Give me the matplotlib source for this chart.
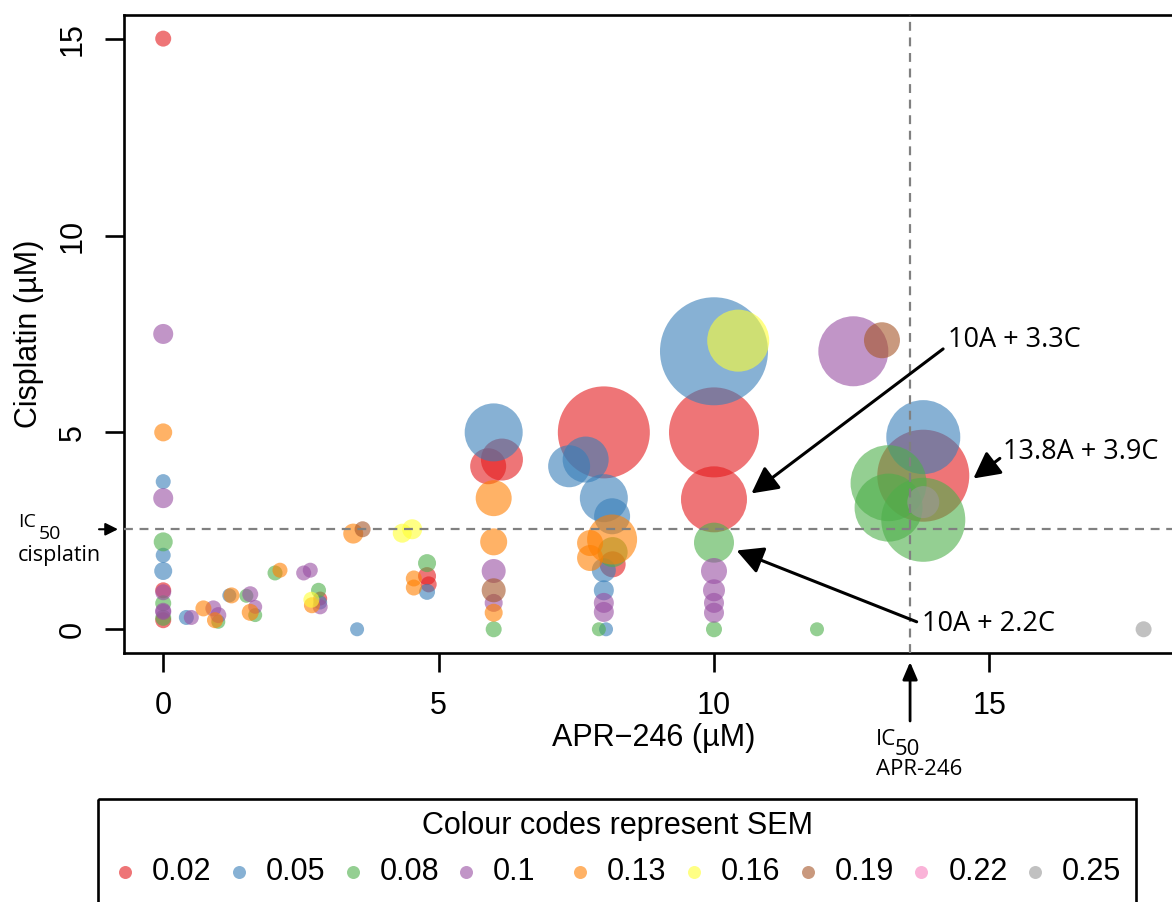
import numpy as np
import matplotlib
matplotlib.use("Agg")
import matplotlib.pyplot as plt
from matplotlib.patches import Rectangle

plt.rcParams['font.family'] = ['Liberation Sans', 'DejaVu Sans']

# SEM classes and their colours (Set1)
sem_levels = [0.02, 0.05, 0.08, 0.1, 0.13, 0.16, 0.19, 0.22, 0.25]
sem_colors = ['#E41A1C', '#377EB8', '#4DAF4A', '#984EA3', '#FF7F00',
              '#FFFF33', '#A65628', '#F781BF', '#999999']

# APR-246 dose (uM) of each combination
apr = [
    # APR-246 alone
    0, 0, 0, 0, 0, 0, 0, 0, 0, 0, 0, 0, 0, 0, 0,
    # low APR-246 doses
    0.42, 0.51, 0.73, 0.91, 1.00, 0.94, 1.00, 1.20, 1.24, 1.51, 1.58, 1.67,
    1.67, 1.58, 2.03, 2.12, 2.55, 2.67, 2.82, 2.85, 2.85, 2.85, 2.70, 2.69,
    3.45, 3.62, 3.52, 4.34, 4.52, 4.79, 4.55, 4.79, 4.82, 4.55, 4.79,
    # around 6 uM
    6.0, 5.9, 6.15, 6.0, 6.0, 6.0, 6.0, 6.0, 6.0, 6.0,
    # around 8 uM
    8.0, 7.37, 7.67, 8.0, 8.15, 8.15, 7.75, 7.75, 8.16, 8.16, 8.0, 8.0,
    8.0, 8.0, 7.91, 8.04,
    # around 10 uM
    10, 10.44, 10, 10, 10, 10, 10, 10, 10, 10, 11.87,
    # high doses
    12.53, 13.05, 13.8, 13.8, 13.17, 13.17, 13.8, 13.8, 17.8,
]

# cisplatin dose (uM) of each combination
cis = [
    15, 7.5, 5, 3.75, 3.33, 2.22, 1.88, 1.48, 0.99, 0.94, 0.66, 0.47, 0.44,
    0.29, 0.23,
    0.30, 0.30, 0.53, 0.53, 0.36, 0.23, 0.19, 0.86, 0.86, 0.85, 0.89, 0.57,
    0.36, 0.43, 1.43, 1.50, 1.43, 1.50, 0.99, 0.78, 0.68, 0.57, 0.61, 0.75,
    2.43, 2.54, 0, 2.44, 2.54, 1.68, 1.29, 1.35, 1.14, 1.06, 0.95,
    5.0, 4.14, 4.31, 3.33, 2.22, 1.48, 0.99, 0.67, 0.42, 0,
    5.0, 4.14, 4.31, 3.33, 2.87, 2.28, 2.19, 1.81, 1.96, 1.65, 1.5, 0.99,
    0.67, 0.44, 0, 0,
    7.06, 7.33, 5.0, 3.3, 2.2, 1.48, 0.99, 0.67, 0.42, 0, 0,
    7.06, 7.34, 4.88, 3.9, 3.71, 3.09, 2.78, 3.23, 0,
]

# standard error of the mean of each combination
sem = [
    0.02, 0.1, 0.13, 0.05, 0.1, 0.08, 0.05, 0.05, 0.02, 0.1, 0.08, 0.1, 0.1,
    0.08, 0.02,
    0.05, 0.1, 0.13, 0.1, 0.1, 0.13, 0.08, 0.05, 0.13, 0.08, 0.1, 0.1,
    0.08, 0.13, 0.08, 0.13, 0.1, 0.1, 0.08, 0.02, 0.05, 0.1, 0.13, 0.16,
    0.13, 0.19, 0.05, 0.16, 0.16, 0.08, 0.13, 0.02, 0.02, 0.13, 0.05,
    0.05, 0.02, 0.02, 0.13, 0.13, 0.1, 0.19, 0.1, 0.13, 0.08,
    0.02, 0.05, 0.05, 0.05, 0.05, 0.13, 0.13, 0.13, 0.08, 0.02, 0.05, 0.05,
    0.1, 0.1, 0.08, 0.05,
    0.05, 0.16, 0.02, 0.02, 0.08, 0.1, 0.1, 0.1, 0.1, 0.08, 0.08,
    0.1, 0.19, 0.05, 0.02, 0.08, 0.08, 0.08, 0.25, 0.25,
]

# synergy score of each combination (bubble size)
synergy = [
    0.8, 1.0, 0.9, 0.75, 1.0, 0.95, 0.75, 0.9, 0.8, 0.8, 0.8, 0.8, 0.8,
    0.8, 0.8,
    0.75, 0.75, 0.8, 0.8, 0.8, 0.8, 0.7, 0.7, 0.8, 0.7, 0.8, 0.7,
    0.7, 0.85, 0.75, 0.75, 0.75, 0.75, 0.75, 0.7, 0.7, 0.75, 0.8, 0.8,
    1.0, 0.8, 0.7, 0.95, 1.0, 0.9, 0.8, 0.9, 0.8, 0.8, 0.8,
    2.9, 1.8, 2.1, 1.8, 1.35, 1.2, 1.2, 0.9, 0.9, 0.8,
    4.6, 2.1, 2.3, 2.4, 1.8, 2.5, 1.3, 1.3, 1.5, 1.3, 1.2, 1.0,
    1.0, 1.0, 0.7, 0.7,
    5.4, 3.1, 4.5, 3.3, 2.0, 1.3, 1.1, 1.0, 1.0, 0.8, 0.7,
    3.5, 1.8, 3.7, 4.6, 3.8, 3.4, 4.2, 1.6, 0.8,
]

ic50_cisplatin = 2.54
ic50_apr = 13.56

DPI = 100
fig = plt.figure(figsize=(11.72, 9.02), dpi=DPI)
W, H = 1172, 902
ax = fig.add_axes([124 / W, 1 - 652.9 / H, 1058.7 / W, 637.9 / H])

apr_a = np.asarray(apr, float)
cis_a = np.asarray(cis, float)
sem_a = np.asarray(sem, float)
syn_a = np.asarray(synergy, float)

# bubbles drawn class by class, lowest SEM first
order = np.argsort(sem_a, kind='stable')
col_idx = [int(np.argmin(np.abs(np.array(sem_levels) - s))) for s in sem_a]
colors = [sem_colors[col_idx[i]] for i in order]
radius_px = 10.0 * syn_a[order]
sizes = (2 * radius_px * 72 / DPI) ** 2
ax.scatter(apr_a[order], cis_a[order], s=sizes, c=colors, alpha=0.6,
           linewidths=0, zorder=2)

# IC50 reference lines
ax.axhline(ic50_cisplatin, color='#808080', lw=1.6, dashes=(4, 3), zorder=3)
ax.axvline(ic50_apr, color='#808080', lw=1.6, dashes=(4, 3), zorder=3)

ax.set_xlim(-0.712, 18.51)
ax.set_ylim(-0.6, 15.6)
ax.set_xticks([0, 5, 10, 15])
ax.set_yticks([0, 5, 10, 15])
ax.set_xticklabels(['0', '5', '10', '15'])
ax.set_yticklabels(['0', '5', '10', '15'])
for sp in ax.spines.values():
    sp.set_linewidth(1.9)
ax.tick_params(axis='both', direction='out', length=13.7, width=1.9,
               labelsize=22, pad=13.5)
ax.tick_params(axis='y', labelrotation=90, pad=12.6)
for lab in ax.get_yticklabels():
    lab.set_va('center')

ax.set_xlabel('APR\u2212246 (\u00b5M)', fontsize=22)
ax.xaxis.set_label_coords(0.5, -(723 - 652.9) / 637.9)
ax.set_ylabel('Cisplatin (\u00b5M)', fontsize=22)
ax.yaxis.set_label_coords(-(124 - 44) / 1058.7, 0.5)

# annotations for selected combinations
ann_font = dict(family=['Open Sans', 'DejaVu Sans'], fontsize=19.5)
arrow_kw = dict(arrowstyle='-|>,head_length=0.8,head_width=0.42',
                color='black', lw=2.2, shrinkA=0, shrinkB=0,
                mutation_scale=20)
ax.annotate('', xy=(10.68, 3.45), xytext=(14.16, 7.12), arrowprops=arrow_kw)
ax.text(14.24, 7.35, '10A + 3.3C', ha='left', va='center', **ann_font)
ax.annotate('', xy=(10.41, 2.0), xytext=(13.68, 0.19), arrowprops=arrow_kw,
            annotation_clip=False)
ax.text(13.78, 0.14, '10A + 2.2C', ha='left', va='center', **ann_font)
ax.annotate('', xy=(14.71, 3.83), xytext=(15.19, 4.34), arrowprops=arrow_kw)
ax.text(15.24, 4.50, '13.8A + 3.9C', ha='left', va='center', **ann_font)

# IC50 markers outside the plot region
fam = ['Open Sans', 'DejaVu Sans']


def ic50_label(x_px, base_px, size, sub_x_px, sub_drop_px, name, name_base_px,
               name_size):
    fig.text(x_px / W, 1 - base_px / H, 'IC', ha='left', va='baseline',
             family=fam, fontsize=size)
    fig.text(sub_x_px / W, 1 - (base_px + sub_drop_px) / H, '50', ha='left',
             va='baseline', family=fam, fontsize=size)
    fig.text(x_px / W, 1 - name_base_px / H, name, ha='left', va='baseline',
             family=fam, fontsize=name_size)


ax.annotate('', xy=(118, ic50_cisplatin), xytext=(99, ic50_cisplatin),
            xycoords=('figure pixels', 'data'),
            textcoords=('figure pixels', 'data'),
            arrowprops=dict(arrowstyle='-|>,head_length=0.5,head_width=0.25',
                            color='black', lw=1.5, shrinkA=0, shrinkB=0,
                            mutation_scale=15),
            annotation_clip=False)
ic50_label(18, 527, 14, 38.5, 12, 'cisplatin', 561, 15.5)

ax.annotate('', xy=(ic50_apr, H - 662), xytext=(ic50_apr, H - 721),
            xycoords=('data', 'figure pixels'),
            textcoords=('data', 'figure pixels'),
            arrowprops=dict(arrowstyle='-|>,head_length=0.7,head_width=0.3',
                            color='black', lw=2.0, shrinkA=0, shrinkB=0,
                            mutation_scale=15),
            annotation_clip=False)
ic50_label(876, 745, 16, 895, 10, 'APR-246', 775, 16)

# SEM colour key
lg = fig.add_axes([0, 0, 1, 1], zorder=5)
lg.set_xlim(0, W)
lg.set_ylim(H, 0)
lg.axis('off')
lg.add_patch(Rectangle((98, 799), 1037.7, 200, fill=False, lw=1.9,
                       edgecolor='black', clip_on=True))
lg.text(617, 826, 'Colour codes represent SEM', ha='center', va='center',
        fontsize=22)
step = 113.75
for i, (lev, colr) in enumerate(zip(sem_levels, sem_colors)):
    xd = 125 + i * step
    lg.scatter([xd], [872], s=(13 * 72 / DPI) ** 2, color=colr, alpha=0.6,
               linewidths=0)
    lg.text(xd + 27, 872, f'{lev:g}', ha='left', va='center', fontsize=22)

fig.savefig('out.png', dpi=DPI)
